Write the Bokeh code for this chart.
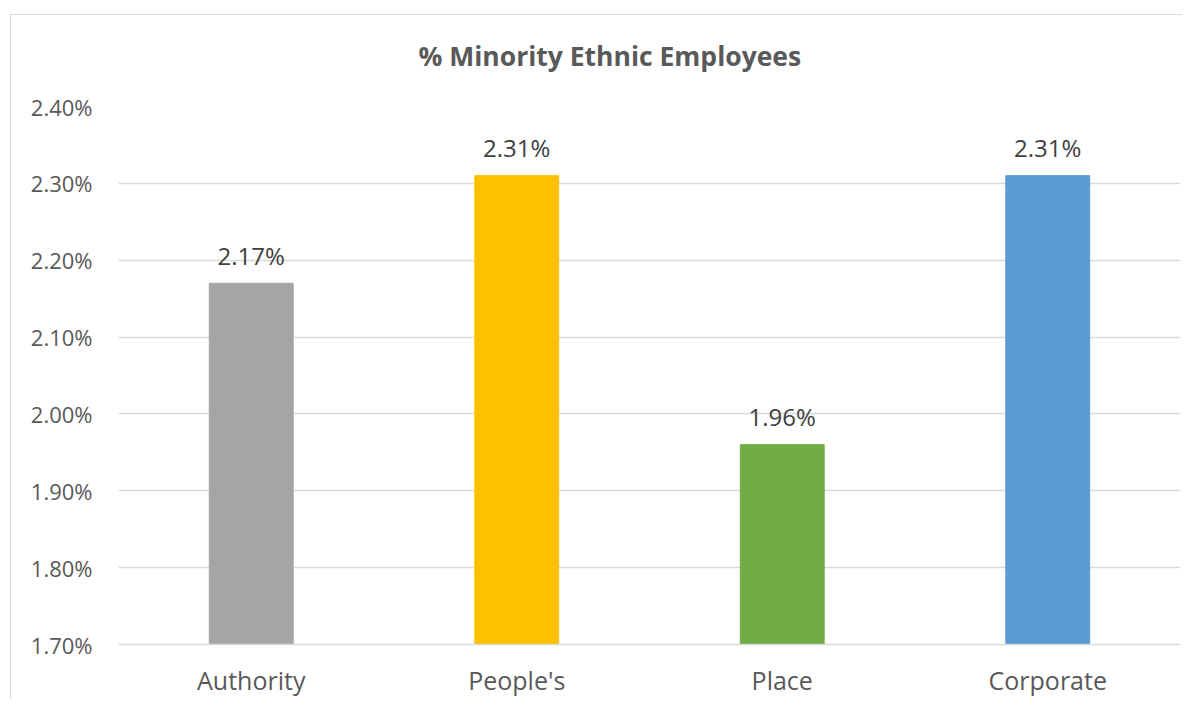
from bokeh.plotting import figure
from bokeh.models import (ColumnDataSource, FactorRange, Range1d, FixedTicker,
                          NumeralTickFormatter, InlineStyleSheet)
from bokeh.core.properties import value
from bokeh.embed import file_html
from bokeh.resources import INLINE

categories = ["Authority", "People's", "Place", "Corporate"]
values = [0.0217, 0.0231, 0.0196, 0.0231]
colors = ["#A5A5A5", "#FFC000", "#70AD47", "#5B9BD5"]
y_ticks = [0.017, 0.018, 0.019, 0.020, 0.021, 0.022, 0.023, 0.024]
title_text = "% Minority Ethnic Employees"

labels = [f"{v * 100:.2f}%" for v in values]
src = ColumnDataSource(dict(cat=categories, val=values, col=colors, lab=labels))

FONT = "Open Sans"

border_css = InlineStyleSheet(css="""
:host { position: relative; }
:host::after { content: ''; position: absolute; left: 10px; top: 14px; right: 0; bottom: 0;
  border-left: 1.5px solid #D9D9D9; border-top: 1.5px solid #D9D9D9; pointer-events: none; }
""")

p = figure(x_range=FactorRange(*categories, range_padding=0),
           y_range=Range1d(y_ticks[0], y_ticks[-1]),
           width=1182, height=699, output_backend="svg", toolbar_location=None,
           min_border_left=118, min_border_right=2, min_border_top=106, min_border_bottom=55,
           stylesheets=[border_css])
p.outline_line_color = None
p.background_fill_color = "white"
p.border_fill_color = "white"

p.vbar(x="cat", top="val", bottom=y_ticks[0], width=0.316, color="col", source=src)
p.text(x="cat", y="val", text="lab", source=src, text_align="center",
       text_baseline="alphabetic", y_offset=-28, text_font=value(FONT),
       text_font_size="24px", text_color="#404040")

# axes
p.yaxis.ticker = FixedTicker(ticks=y_ticks)
p.yaxis.formatter = NumeralTickFormatter(format="0.00%")
p.yaxis.axis_line_color = None
p.yaxis.major_tick_line_color = None
p.yaxis.minor_tick_line_color = None
p.yaxis.major_label_text_font = FONT
p.yaxis.major_label_text_font_size = "22px"
p.yaxis.major_label_text_color = "#595959"
p.yaxis.major_label_standoff = 20

p.xaxis.axis_line_color = "#D9D9D9"
p.xaxis.axis_line_width = 1.5
p.xaxis.major_tick_line_color = None
p.xaxis.minor_tick_line_color = None
p.xaxis.major_label_text_font = FONT
p.xaxis.major_label_text_font_size = "25px"
p.xaxis.major_label_text_color = "#595959"
p.xaxis.major_label_standoff = 12

p.xgrid.grid_line_color = None
p.ygrid.grid_line_color = "#D9D9D9"
p.ygrid.grid_line_width = 1.5

# title
p.title.text = title_text
p.title.align = "left"
p.title.offset = 300
p.title.standoff = 64
p.title.vertical_align = "middle"
p.title.text_font = FONT
p.title.text_font_style = "bold"
p.title.text_font_size = "26.5px"
p.title.text_color = "#595959"

open("out.html", "w").write(file_html(p, INLINE))
